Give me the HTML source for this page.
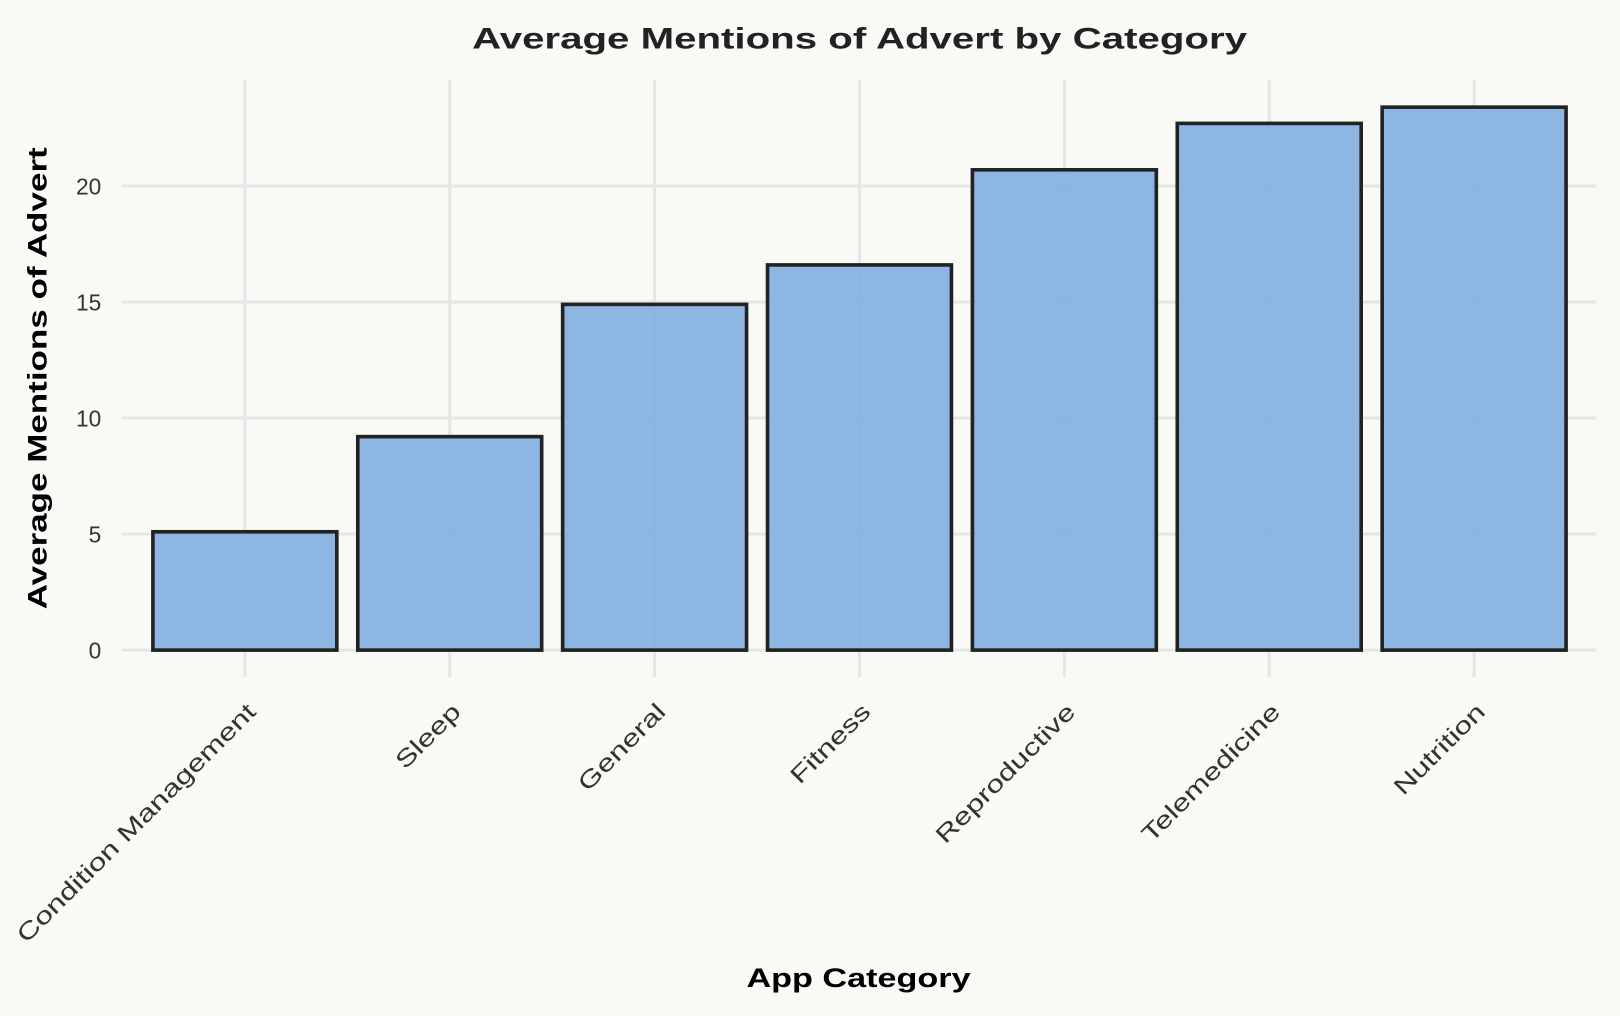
<!DOCTYPE html>
<html><head><meta charset="utf-8"><style>
html,body{margin:0;padding:0;background:#f9f9f6;}
svg{display:block;font-family:"Liberation Sans","DejaVu Sans",sans-serif;}
</style></head><body>
<svg id="chart" width="1620" height="1016" viewBox="0 0 1568 983" preserveAspectRatio="none" xmlns="http://www.w3.org/2000/svg">
<rect width="1568" height="983" fill="#f9f9f6"/>
<text x="832" y="47" text-anchor="middle" font-size="29" font-weight="bold" fill="#222" textLength="750" lengthAdjust="spacingAndGlyphs">Average Mentions of Advert by Category</text>
<g id="grid"></g>
<g id="bars"></g>
<g id="labels"></g>
<text transform="translate(45,366) rotate(-90)" text-anchor="middle" font-size="26" font-weight="bold" fill="#000" textLength="447" lengthAdjust="spacingAndGlyphs">Average Mentions of Advert</text>
<text x="831" y="955" text-anchor="middle" font-size="26" font-weight="bold" fill="#000" textLength="217" lengthAdjust="spacingAndGlyphs">App Category</text>
</svg>
<script>
const categories = ["Condition Management","Sleep","General","Fitness","Reproductive","Telemedicine","Nutrition"];
const values = [5.1, 9.2, 14.9, 16.6, 20.7, 22.7, 23.4];
const yTicks = [0, 5, 10, 15, 20];
const tickLabels = ["0","5","10","15","20"];

const NS = "http://www.w3.org/2000/svg";
const y0 = 629, pxPerUnit = 22.45;
const yScale = v => y0 - v * pxPerUnit;
const xStart = 237, step = 198.3, barW = 178;
const xScale = i => xStart + i * step;
function mk(tag, attrs, parent) {
  const e = document.createElementNS(NS, tag);
  for (const k in attrs) e.setAttribute(k, attrs[k]);
  parent.appendChild(e);
  return e;
}
const grid = document.getElementById("grid");
const bars = document.getElementById("bars");
const labels = document.getElementById("labels");
yTicks.forEach((t, i) => {
  const y = yScale(t);
  const l = mk("line", {x1: 118, x2: 1545, y1: y, y2: y, stroke: "#e6e6e6", "stroke-width": 3}, grid);
  
  
  const tx = mk("text", {x: 98, y: y + 8, "text-anchor": "end", "font-size": 22, fill: "#333"}, labels);
  tx.textContent = tickLabels[i];
  
  
});
categories.forEach((c, i) => {
  const x = xScale(i);
  const g = mk("line", {x1: x, x2: x, y1: 77, y2: 655, stroke: "#e6e6e6", "stroke-width": 3}, grid);
  
  
  const top = yScale(values[i]);
  const r = mk("rect", {x: x - barW / 2, y: top, width: barW, height: y0 - top, fill: "rgba(122,172,222,0.85)", stroke: "#222", "stroke-width": 3.5}, bars);
  
  
  const t = mk("text", {transform: `translate(${x + 12},${690}) rotate(-45)`, "text-anchor": "end", "font-size": 23, fill: "#333"}, labels);
  t.textContent = c;
  
  
  const w = t.getComputedTextLength();
  if (w > 0) {
    t.setAttribute("textLength", (w * 1.33).toFixed(1));
    t.setAttribute("lengthAdjust", "spacingAndGlyphs");
  }
});
</script>
</body></html>
